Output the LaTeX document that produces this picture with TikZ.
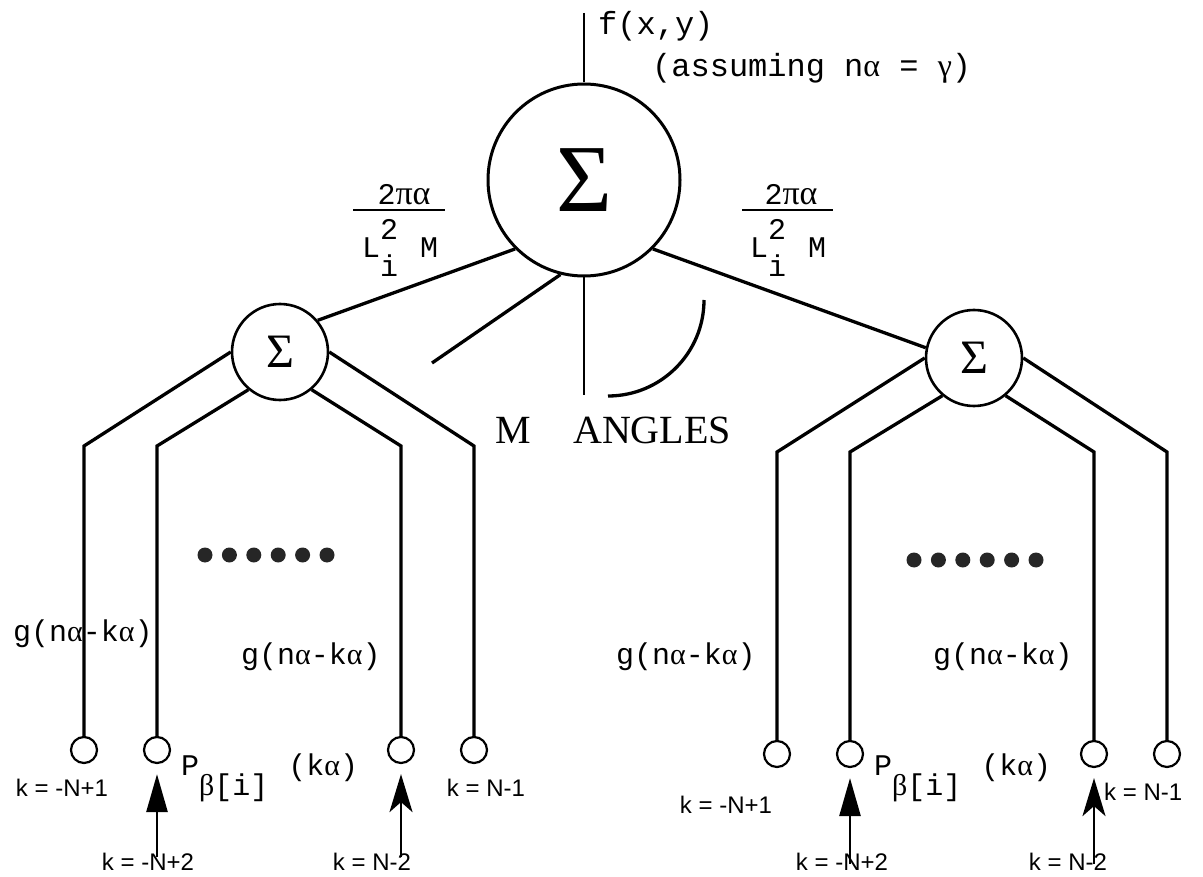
\documentclass[tikz,border=0pt]{standalone}
\usepackage{fontspec}
\setmainfont{Liberation Serif}
\newfontfamily\monof{Liberation Mono}
\newfontfamily\sansf{Liberation Sans}
\newfontfamily\serf{Liberation Serif}
\usetikzlibrary{arrows.meta}
\begin{document}
\begin{tikzpicture}[x=1pt,y=-1pt,
  wire/.style={line width=3.3pt, line join=miter},
  thinwire/.style={line width=2.2pt},
  sumbig/.style={circle, draw, line width=3pt, minimum size=192pt, inner sep=0pt},
  sumsmall/.style={circle, draw, line width=2.6pt, minimum size=96pt, inner sep=0pt},
  leaf/.style={circle, draw, line width=2.2pt, minimum size=26pt, inner sep=0pt},
  mono/.style={font=\monof\fontsize{30}{30}\selectfont, inner sep=0pt},
  monobig/.style={font=\monof\fontsize{32}{32}\selectfont, inner sep=0pt},
  klabel/.style={font=\sansf\fontsize{24}{24}\selectfont, inner sep=0pt},
  dotn/.style={circle, fill=black!85, minimum size=15pt, inner sep=0pt},
  bigtext/.style={font=\serf\fontsize{40}{40}\selectfont, inner sep=0pt},
  arrowA/.style={line width=2.6pt, -{Triangle[length=38pt,width=21pt]}, shorten >=10pt},
  arrowB/.style={line width=2.6pt, -{Stealth[length=38pt,width=23pt,inset=10pt]}, shorten >=10pt},
]
\useasboundingbox (0,0) rectangle (1203,877);

% summing nodes
\node[sumbig] (top) at (584,180) {\serf\fontsize{96}{96}\selectfont Σ};
\node[sumsmall] (LS) at (280,352) {\serf\fontsize{48}{48}\selectfont Σ};
\node[sumsmall] (RS) at (974,358) {\serf\fontsize{48}{48}\selectfont Σ};

% output
\coordinate (topend) at (584,13);
\draw[line width=2pt] (topend) -- (top.north);
\node[monobig, anchor=base west] (fxy) at (598,35) {f(x,y)};
\node[monobig, anchor=base west] (assume) at (652,77) {(assuming n{\serf α} = {\serf γ})};

% weights
\node[mono, anchor=base] (nL) at (404,205) {2{\serf\fontsize{34}{34}\selectfont πα}};
\draw[line width=2.4pt] (353,210) -- (445,210);
\node[mono, anchor=base west] (dL) at (362,258) {L\rlap{\raisebox{18pt}{2}}\raisebox{-19pt}{i}\hspace{22pt}M};
\node[mono, anchor=base] (nR) at (791,205) {2{\serf\fontsize{34}{34}\selectfont πα}};
\draw[line width=2.4pt] (742,210) -- (833,210);
\node[mono, anchor=base west] (dR) at (750,258) {L\rlap{\raisebox{18pt}{2}}\raisebox{-19pt}{i}\hspace{22pt}M};

% connections from top sum
\draw[wire] (top.225) -- (LS.40);
\draw[wire] (top.315) -- (RS.168);
\coordinate (ml) at (432,363);
\draw[wire] (top.256) -- (ml);
\coordinate (mv) at (584,395);
\draw[thinwire] (top.270) -- (mv);
\coordinate (arcA) at (704,300);
\coordinate (arcB) at (608,396);
\draw[wire] (arcA) .. controls (704,353) and (661,396) .. (arcB);

\node[bigtext, anchor=base west] (mtxt) at (495,443) {M};
\node[bigtext, anchor=base west] (angles) at (573,443) {ANGLES};

% left subtree
\node[leaf] (l1) at (84,750) {};
\node[leaf] (l2) at (157,750) {};
\node[leaf] (l3) at (401,750) {};
\node[leaf] (l4) at (474,750) {};
\coordinate (lb1) at (84,446);
\coordinate (lb2) at (157,446);
\coordinate (lb3) at (401,446);
\coordinate (lb4) at (474,446);
\draw[wire] (LS.180) -- (lb1) -- (l1.north);
\draw[wire] (LS.230) -- (lb2) -- (l2.north);
\draw[wire] (LS.310) -- (lb3) -- (l3.north);
\draw[wire] (LS.0) -- (lb4) -- (l4.north);
\foreach \i in {0,...,5} \node[dotn] (ld\i) at (205+24.4*\i,555) {};

\node[mono, anchor=base west] (gL1) at (13,641) {g(n{\serf α}-k{\serf α})};
\node[mono, anchor=base west] (gL2) at (241,664) {g(n{\serf α}-k{\serf α})};
\node[mono, anchor=base west] (pL) at (181,775) {P\raisebox{-20pt}{{\serf β}[i]}\hspace{20pt}(k{\serf α})};

\coordinate (aL2) at (157,857);
\coordinate (aL3) at (401,857);
\draw[arrowA] (aL2) -- (l2.south);
\draw[arrowB] (aL3) -- (l3.south);

\node[klabel] (kL1) at (62,788) {k = -N+1};
\node[klabel] (kL2) at (148,862) {k = -N+2};
\node[klabel] (kL3) at (372,862) {k = N-2};
\node[klabel] (kL4) at (486,788) {k = N-1};

% right subtree
\node[leaf] (r1) at (777,754) {};
\node[leaf] (r2) at (850,754) {};
\node[leaf] (r3) at (1094,754) {};
\node[leaf] (r4) at (1167,754) {};
\coordinate (rb1) at (777,452);
\coordinate (rb2) at (850,452);
\coordinate (rb3) at (1094,452);
\coordinate (rb4) at (1167,452);
\draw[wire] (RS.180) -- (rb1) -- (r1.north);
\draw[wire] (RS.230) -- (rb2) -- (r2.north);
\draw[wire] (RS.310) -- (rb3) -- (r3.north);
\draw[wire] (RS.0) -- (rb4) -- (r4.north);
\foreach \i in {0,...,5} \node[dotn] (rd\i) at (914+24.4*\i,560) {};

\node[mono, anchor=base west] (gR1) at (616,664) {g(n{\serf α}-k{\serf α})};
\node[mono, anchor=base west] (gR2) at (933,664) {g(n{\serf α}-k{\serf α})};
\node[mono, anchor=base west] (pR) at (874,775) {P\raisebox{-20pt}{{\serf β}[i]}\hspace{20pt}(k{\serf α})};

\coordinate (aR2) at (850,864);
\coordinate (aR3) at (1094,864);
\draw[arrowA] (aR2) -- (r2.south);
\draw[arrowB] (aR3) -- (r3.south);

\node[klabel] (kR1) at (726,805) {k = -N+1};
\node[klabel] (kR2) at (842,862) {k = -N+2};
\node[klabel] (kR3) at (1068,862) {k = N-2};
\node[klabel, anchor=west] (kR4) at (1104,792) {k = N-1};
\end{tikzpicture}
\end{document}
